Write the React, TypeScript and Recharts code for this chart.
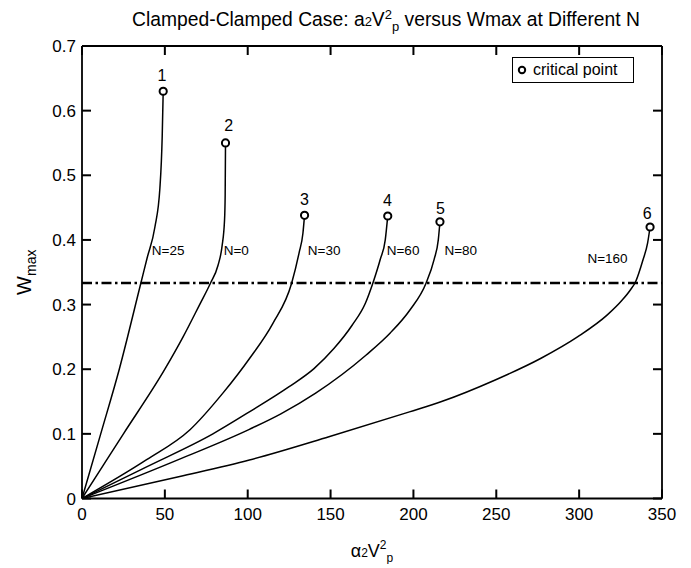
import React from "react";
import {
  ComposedChart,
  Line,
  Scatter,
  XAxis,
  YAxis,
  ReferenceLine,
  Legend,
} from "recharts";

// Curves: alpha2*V_p^2 (v) versus Wmax (w)
const curveN25 = [
  { v: 0, w: 0 }, { v: 11.3, w: 0.1 }, { v: 22.5, w: 0.2 }, { v: 35.5, w: 0.333 },
  { v: 39.3, w: 0.372 }, { v: 44, w: 0.42 }, { v: 47, w: 0.48 }, { v: 48.4, w: 0.56 },
  { v: 49, w: 0.63 },
];
const curveN0 = [
  { v: 0, w: 0 }, { v: 12.5, w: 0.05 }, { v: 25, w: 0.1 }, { v: 50, w: 0.2 },
  { v: 61, w: 0.25 }, { v: 71, w: 0.3 }, { v: 77.5, w: 0.333 }, { v: 82, w: 0.36 },
  { v: 84.5, w: 0.39 }, { v: 86, w: 0.43 }, { v: 86.4, w: 0.47 }, { v: 86.6, w: 0.55 },
];
const curveN30 = [
  { v: 0, w: 0 }, { v: 39, w: 0.06 }, { v: 65, w: 0.106 }, { v: 85, w: 0.163 },
  { v: 101.2, w: 0.217 }, { v: 115.2, w: 0.271 }, { v: 126.5, w: 0.333 }, { v: 131, w: 0.38 },
  { v: 133.3, w: 0.41 }, { v: 134.3, w: 0.438 },
];
const curveN60 = [
  { v: 0, w: 0 }, { v: 39, w: 0.049 }, { v: 79, w: 0.1 }, { v: 101, w: 0.134 },
  { v: 125, w: 0.173 }, { v: 140, w: 0.201 }, { v: 152, w: 0.232 }, { v: 163, w: 0.268 },
  { v: 171, w: 0.302 }, { v: 175.5, w: 0.333 }, { v: 180, w: 0.37 }, { v: 183, w: 0.4 },
  { v: 184.5, w: 0.437 },
];
const curveN80 = [
  { v: 0, w: 0 }, { v: 60, w: 0.062 }, { v: 101, w: 0.107 }, { v: 120, w: 0.131 },
  { v: 141, w: 0.163 }, { v: 171.5, w: 0.222 }, { v: 186, w: 0.256 }, { v: 198, w: 0.292 },
  { v: 207.6, w: 0.333 }, { v: 212.5, w: 0.37 }, { v: 215, w: 0.4 }, { v: 216, w: 0.428 },
];
const curveN160 = [
  { v: 0, w: 0 }, { v: 59, w: 0.034 }, { v: 101, w: 0.0595 }, { v: 149, w: 0.0955 },
  { v: 197.6, w: 0.134 }, { v: 217, w: 0.15 }, { v: 249, w: 0.183 }, { v: 277, w: 0.217 },
  { v: 299, w: 0.25 }, { v: 317, w: 0.284 }, { v: 326, w: 0.307 }, { v: 331, w: 0.323 },
  { v: 334, w: 0.335 }, { v: 338.5, w: 0.369 }, { v: 341.3, w: 0.395 }, { v: 342.8, w: 0.42 },
];

const criticalPoints = [
  { v: 49, w: 0.63 },
  { v: 86.6, w: 0.55 },
  { v: 134.3, w: 0.438 },
  { v: 184.5, w: 0.437 },
  { v: 216, w: 0.428 },
  { v: 342.8, w: 0.42 },
];

const pointLabels = [
  { v: 48.2, w: 0.655, text: "1" },
  { v: 88.6, w: 0.577, text: "2" },
  { v: 134.3, w: 0.462, text: "3" },
  { v: 184.3, w: 0.461, text: "4" },
  { v: 216.3, w: 0.449, text: "5" },
  { v: 341, w: 0.441, text: "6" },
];

const curveLabels = [
  { v: 42.1, w: 0.383, text: "N=25" },
  { v: 85.5, w: 0.383, text: "N=0" },
  { v: 136.3, w: 0.383, text: "N=30" },
  { v: 183.9, w: 0.383, text: "N=60" },
  { v: 218.7, w: 0.383, text: "N=80" },
  { v: 305, w: 0.371, text: "N=160" },
];

const xTicks = [0, 50, 100, 150, 200, 250, 300, 350];
const yTicks = [0, 0.1, 0.2, 0.3, 0.4, 0.5, 0.6, 0.7];
const threshold = 1 / 3;

const FONT = '"Liberation Sans", Arial, Helvetica, sans-serif';

const curves = [curveN25, curveN0, curveN30, curveN60, curveN80, curveN160];

const AXIS_LINE = { stroke: "#000", strokeWidth: 1.8 };
const TICK_LEN = 9;
const TICK_W = 2;
const BOTTOM_MARGIN = 9;
const LEFT_MARGIN = 6;

const BottomTick = (props: any) => {
  const { x, y, payload } = props;
  const axisY = y - BOTTOM_MARGIN;
  return (
    <g>
      <rect x={x - TICK_W / 2} y={axisY - TICK_LEN} width={TICK_W} height={TICK_LEN} fill="#000" stroke="none" />
      <text x={x} y={y} dy="0.71em" textAnchor="middle" fontSize={17} fontFamily={FONT} fill="#000">
        {payload.value}
      </text>
    </g>
  );
};

const TopTick = (props: any) => {
  const { x, y } = props;
  return <rect x={x - TICK_W / 2} y={y} width={TICK_W} height={TICK_LEN} fill="#000" stroke="none" />;
};

const LeftTick = (props: any) => {
  const { x, y, payload } = props;
  const axisX = x + LEFT_MARGIN;
  return (
    <g>
      <rect x={axisX} y={y - TICK_W / 2} width={TICK_LEN} height={TICK_W} fill="#000" stroke="none" />
      <text x={x} y={y} dy="0.355em" textAnchor="end" fontSize={17} fontFamily={FONT} fill="#000">
        {String(Math.round(payload.value * 10) / 10)}
      </text>
    </g>
  );
};

const RightTick = (props: any) => {
  const { x, y } = props;
  return <rect x={x - TICK_LEN} y={y - TICK_W / 2} width={TICK_LEN} height={TICK_W} fill="#000" stroke="none" />;
};

const CircleMarker = (props: any) => {
  const { cx, cy } = props;
  if (cx == null || cy == null) return null;
  return <circle cx={cx} cy={cy} r={3.6} fill="#fff" stroke="#000" strokeWidth={2} />;
};

const makeTextShape = (size: number, anchor: "start" | "middle") => (props: any) => {
  const { cx, cy, payload } = props;
  if (cx == null || cy == null) return null;
  return (
    <text
      x={cx}
      y={cy}
      textAnchor={anchor}
      dominantBaseline="central"
      fontSize={size}
      fontFamily={FONT}
      fill="#000"
    >
      {payload.text}
    </text>
  );
};

const LegendBox = () => (
  <div
    style={{
      width: 120,
      height: 24,
      border: "1px solid #000",
      background: "#fff",
      display: "flex",
      alignItems: "center",
      fontFamily: FONT,
      fontSize: 16,
      color: "#000",
      boxSizing: "content-box",
    }}
  >
    <svg width={20} height={24} style={{ display: "block" }}>
      <circle cx={9} cy={12} r={3.2} fill="#fff" stroke="#000" strokeWidth={2} />
    </svg>
    <span>critical point</span>
  </div>
);

const XLabel = (props: any) => {
  const vb = props.viewBox || {};
  const cx = vb.x + vb.width / 2;
  const y = vb.y + 58;
  return (
    <text x={cx} y={y} textAnchor="middle" fontFamily={FONT} fill="#000" fontSize={18}>
      <tspan>α</tspan>
      <tspan fontSize={12}>2</tspan>
      <tspan>V</tspan>
      <tspan fontSize={12} dy={-8}>2</tspan>
      <tspan fontSize={12} dy={13}>p</tspan>
    </text>
  );
};

const YLabel = (props: any) => {
  const vb = props.viewBox || {};
  const cx = 23;
  const cy = vb.y + vb.height / 2;
  return (
    <text
      x={cx}
      y={cy}
      transform={`rotate(-90, ${cx}, ${cy})`}
      textAnchor="middle"
      fontFamily={FONT}
      fill="#000"
      fontSize={20}
    >
      <tspan>W</tspan>
      <tspan fontSize={14} dy={5}>max</tspan>
    </text>
  );
};

export default function App() {
  const W = 680;
  const H = 556;
  return (
    <div style={{ position: "relative", width: W, height: H, fontFamily: FONT }}>
      <div
        style={{
          position: "absolute",
          top: 2,
          left: 0,
          width: 756,
          textAlign: "center",
          fontSize: 19.3,
          lineHeight: "19px",
          color: "#000",
          whiteSpace: "nowrap",
          zIndex: 2,
        }}
      >
        Clamped-Clamped Case: a<span style={{ fontSize: 13 }}>2</span>V
        <span style={{ fontSize: 13, position: "relative", top: -7 }}>2</span>
        <span style={{ fontSize: 13, position: "relative", top: 5 }}>p</span> versus Wmax at Different N
      </div>
      <ComposedChart
        width={W}
        height={H}
        margin={{ top: 37, right: 25, left: 24, bottom: 35.5 }}
      >
        <XAxis
          xAxisId="b"
          orientation="bottom"
          type="number"
          dataKey="v"
          domain={[0, 350]}
          ticks={xTicks}
          allowDataOverflow
          height={30}
          tickSize={0}
          tickMargin={BOTTOM_MARGIN}
          axisLine={AXIS_LINE}
          tickLine={false}
          tick={BottomTick}
          interval={0}
          label={<XLabel />}
        />
        <XAxis
          xAxisId="t"
          orientation="top"
          type="number"
          dataKey="v"
          domain={[0, 350]}
          ticks={xTicks}
          allowDataOverflow
          height={1}
          tickSize={0}
          tickMargin={0}
          axisLine={AXIS_LINE}
          tickLine={false}
          tick={TopTick}
          interval={0}
        />
        <YAxis
          yAxisId="l"
          orientation="left"
          type="number"
          domain={[0, 0.7]}
          ticks={yTicks}
          allowDataOverflow
          width={50}
          tickSize={0}
          tickMargin={LEFT_MARGIN}
          axisLine={AXIS_LINE}
          tickLine={false}
          tick={LeftTick}
          interval={0}
          label={<YLabel />}
        />
        <YAxis
          yAxisId="r"
          orientation="right"
          type="number"
          domain={[0, 0.7]}
          ticks={yTicks}
          allowDataOverflow
          width={1}
          tickSize={0}
          tickMargin={0}
          axisLine={AXIS_LINE}
          tickLine={false}
          tick={RightTick}
          interval={0}
        />
        <ReferenceLine
          xAxisId="b"
          yAxisId="l"
          y={threshold}
          stroke="#000"
          strokeWidth={2.6}
          strokeDasharray="10 3.5 2.5 3.5"
        />
        {curves.map((d, i) => (
          <Line
            key={i}
            xAxisId="b"
            yAxisId="l"
            data={d}
            dataKey="w"
            type="monotone"
            stroke="#000"
            strokeWidth={1.5}
            dot={false}
            activeDot={false}
            isAnimationActive={false}
          />
        ))}
        <Scatter
          xAxisId="b"
          yAxisId="l"
          data={criticalPoints}
          dataKey="w"
          shape={<CircleMarker />}
          isAnimationActive={false}
        />
        <Scatter
          xAxisId="b"
          yAxisId="l"
          data={pointLabels}
          dataKey="w"
          shape={makeTextShape(16, "middle")}
          isAnimationActive={false}
        />
        <Scatter
          xAxisId="b"
          yAxisId="l"
          data={curveLabels}
          dataKey="w"
          shape={makeTextShape(13.5, "start")}
          isAnimationActive={false}
        />
        <Legend
          layout="vertical"
          align="center"
          verticalAlign="middle"
          content={() => <LegendBox />}
          wrapperStyle={{ left: 504, top: 49, width: 122, height: 26 }}
        />
      </ComposedChart>
    </div>
  );
}
